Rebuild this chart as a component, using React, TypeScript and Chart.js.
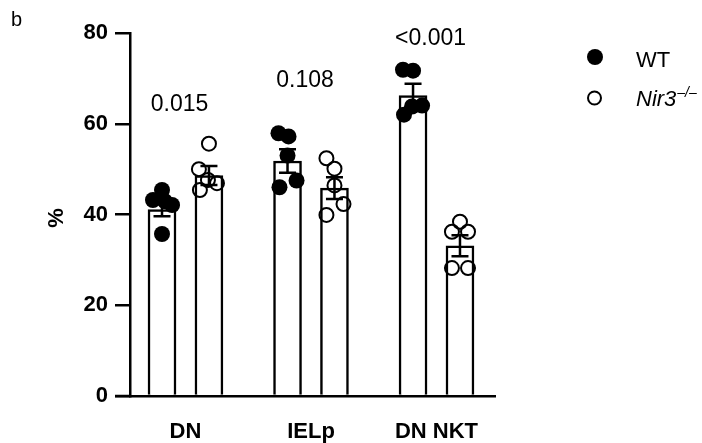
import React, { useEffect, useRef } from "react";
import { Chart, registerables } from "chart.js";

Chart.register(...registerables);

const FONT = '"Liberation Sans", Arial, sans-serif';

const categories = ["DN", "IELp", "DN NKT"];
const pValues = ["0.015", "0.108", "<0.001"];
const yTicks = [0, 20, 40, 60, 80];

const wtMeans = [41.1, 51.8, 66.2];
const wtSem = [1.5, 2.6, 2.6];
const koMeans = [48.6, 45.8, 33.1];
const koSem = [2.1, 2.4, 2.3];

const wtPoints = [
  [45.4, 43.2, 42.9, 42.1, 35.7],
  [57.9, 57.2, 53.0, 46.0, 47.5],
  [71.9, 71.7, 64.0, 63.8, 62.0],
];
const koPoints = [
  [55.6, 50.0, 47.6, 46.9, 45.4],
  [52.4, 50.1, 46.4, 42.3, 39.9],
  [38.4, 36.2, 36.2, 28.2, 28.2],
];
// horizontal jitter of each dot (fraction of category spacing)
const wtJitter = [
  [0, -0.072, 0.024, 0.08, 0],
  [-0.072, 0.008, 0, -0.064, 0.072],
  [-0.08, 0, 0.072, -0.008, -0.072],
];
const koJitter = [
  [0, -0.08, -0.008, 0.064, -0.072],
  [-0.064, 0, 0, 0.072, -0.064],
  [0, -0.064, 0.064, -0.064, 0.064],
];

const OFF = 0.187;

export default function App() {
  const ref = useRef<HTMLCanvasElement | null>(null);

  useEffect(() => {
    document.body.style.margin = "0";
    const canvas = ref.current;
    if (!canvas) return;

    const barData = (means: number[], sign: number) =>
      means.map((m, i) => ({ x: i + 1 + sign * OFF, y: m }));
    const ptData = (pts: number[][], jit: number[][], sign: number) =>
      pts.flatMap((arr, i) => arr.map((v, j) => ({ x: i + 1 + sign * OFF + jit[i][j], y: v })));

    const errorPlugin = {
      id: "errbars",
      afterDatasetDraw(chart: any, args: any) {
        if (args.index > 1) return;
        const means = args.index === 0 ? wtMeans : koMeans;
        const sems = args.index === 0 ? wtSem : koSem;
        const sign = args.index === 0 ? -1 : 1;
        const xs = chart.scales.x;
        const ys = chart.scales.y;
        const ctx = chart.ctx;
        ctx.save();
        ctx.strokeStyle = "#000";
        ctx.lineWidth = 2.5;
        means.forEach((m, i) => {
          const px = xs.getPixelForValue(i + 1 + sign * OFF);
          const top = ys.getPixelForValue(m + sems[i]);
          const bot = ys.getPixelForValue(m - sems[i]);
          ctx.beginPath();
          ctx.moveTo(px, top);
          ctx.lineTo(px, bot);
          ctx.moveTo(px - 8.5, top);
          ctx.lineTo(px + 8.5, top);
          ctx.moveTo(px - 8.5, bot);
          ctx.lineTo(px + 8.5, bot);
          ctx.stroke();
        });
        ctx.restore();
      },
    };

    const textPlugin = {
      id: "texts",
      afterDraw(chart: any) {
        const ctx = chart.ctx;
        const xs = chart.scales.x;
        const ys = chart.scales.y;
        ctx.save();
        ctx.fillStyle = "#000";
        // zero tick mark on y axis
        ctx.strokeStyle = "#000";
        ctx.lineWidth = 2.5;
        ctx.beginPath();
        ctx.moveTo(xs.left - 15, ys.getPixelForValue(0));
        ctx.lineTo(xs.left, ys.getPixelForValue(0));
        ctx.stroke();
        // panel letter
        ctx.font = `20px ${FONT}`;
        ctx.textAlign = "left";
        ctx.textBaseline = "alphabetic";
        ctx.fillText("b", 11, 26);
        // p values
        ctx.font = `23px ${FONT}`;
        ctx.textAlign = "center";
        ctx.textBaseline = "middle";
        const pY = [105, 81, 39];
        pValues.forEach((p, i) => {
          ctx.fillText(p, xs.getPixelForValue(i + 1) - 6, pY[i]);
        });
        // y title
        ctx.save();
        ctx.translate(57, 218);
        ctx.rotate(-Math.PI / 2);
        ctx.font = `bold 22px ${FONT}`;
        ctx.fillText("%", 0, 0);
        ctx.restore();
        // legend
        ctx.beginPath();
        ctx.arc(595, 57, 8, 0, Math.PI * 2);
        ctx.fill();
        ctx.beginPath();
        ctx.lineWidth = 2;
        ctx.arc(594.5, 98, 6.5, 0, Math.PI * 2);
        ctx.stroke();
        ctx.textAlign = "left";
        ctx.textBaseline = "alphabetic";
        ctx.font = `22px ${FONT}`;
        ctx.fillText("WT", 636, 67);
        ctx.font = `italic 22px ${FONT}`;
        ctx.fillText("Nir3", 636, 106);
        const w = ctx.measureText("Nir3").width;
        ctx.font = `italic 14px ${FONT}`;
        ctx.fillText("\u2013/\u2013", 636 + w + 1, 97);
        ctx.restore();
      },
    };

    const chart = new Chart(canvas, {
      type: "bar",
      data: {
        datasets: [
          {
            type: "bar",
            label: "WT",
            data: barData(wtMeans, -1),
            backgroundColor: "#fff",
            borderColor: "#000",
            borderWidth: 2.5,
            borderSkipped: "bottom",
            barThickness: 28,
            grouped: false,
            order: 2,
          } as any,
          {
            type: "bar",
            label: "Nir3-/-",
            data: barData(koMeans, 1),
            backgroundColor: "#fff",
            borderColor: "#000",
            borderWidth: 2.5,
            borderSkipped: "bottom",
            barThickness: 28,
            grouped: false,
            order: 2,
          } as any,
          {
            type: "scatter",
            label: "WT points",
            data: ptData(wtPoints, wtJitter, -1),
            pointRadius: 8,
            pointBackgroundColor: "#000",
            pointBorderColor: "#000",
            pointBorderWidth: 0,
            order: 0,
          } as any,
          {
            type: "scatter",
            label: "KO points",
            data: ptData(koPoints, koJitter, 1),
            pointRadius: 7,
            pointBackgroundColor: "rgba(0,0,0,0)",
            pointBorderColor: "#000",
            pointBorderWidth: 2,
            order: 0,
          } as any,
        ],
      },
      options: {
        responsive: false,
        animation: false,
        layout: { padding: { left: 0, top: 33, right: 207, bottom: 0 } },
        plugins: { legend: { display: false }, tooltip: { enabled: false } },
        scales: {
          x: {
            type: "linear",
            offset: false,
            min: 0.558,
            max: 3.466,
            afterFit: (s: any) => {
              s.height = 47;
            },
            afterBuildTicks: (s: any) => {
              s.ticks = categories.map((_, i) => ({ value: i + 1 }));
            },
            ticks: {
              autoSkip: false,
              maxRotation: 0,
              padding: 23,
              color: "#000",
              font: { family: FONT, size: 22, weight: "bold" },
              callback: (v: any) => categories[Number(v) - 1] ?? "",
            },
            grid: { display: true, drawOnChartArea: false, drawTicks: false },
            border: { display: true, color: "#000", width: 2.5 },
          },
          y: {
            min: 0,
            max: 80,
            afterFit: (s: any) => {
              s.width = 130;
            },
            afterBuildTicks: (s: any) => {
              s.ticks = yTicks.map((v) => ({ value: v }));
            },
            ticks: {
              padding: 7,
              color: "#000",
              font: { family: FONT, size: 22, weight: "bold" },
            },
            grid: {
              display: true,
              drawOnChartArea: false,
              drawTicks: true,
              tickLength: 15,
              color: "#000",
              lineWidth: 2.5,
            },
            border: { display: true, color: "#000", width: 2.5 },
          },
        },
      } as any,
      plugins: [errorPlugin, textPlugin],
    });

    return () => chart.destroy();
  }, []);

  return (
    <div style={{ width: 702, height: 443 }}>
      <canvas ref={ref} width={702} height={443} />
    </div>
  );
}
